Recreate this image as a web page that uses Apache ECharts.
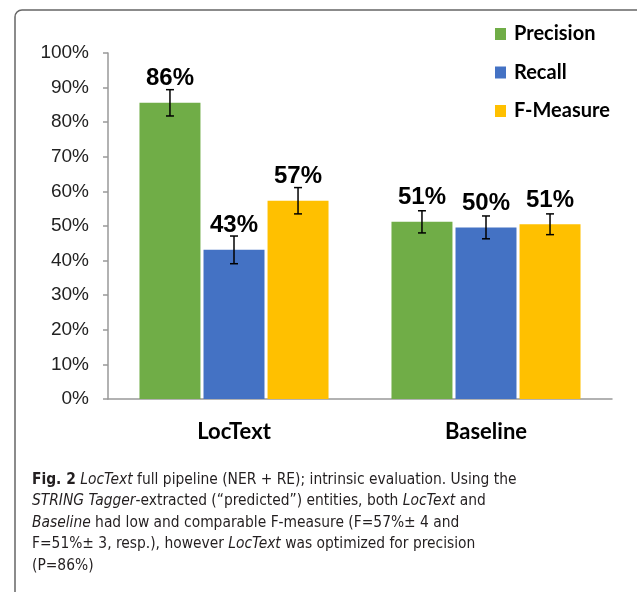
<!DOCTYPE html>
<html>
<head>
<meta charset="utf-8">
<script src="https://cdn.jsdelivr.net/npm/echarts@6/dist/echarts.min.js"></script>
<style>
	html, body { margin: 0; padding: 0; background: #fff; }
	#chart { width: 637px; height: 592px; }
</style>
</head>
<body>
<div id="chart"></div>
<script>
var categories = ['LocText', 'Baseline'];
var seriesNames = ['Precision', 'Recall', 'F-Measure'];
var precision = [85.6, 51.2];
var recall = [43.1, 49.6];
var fMeasure = [57.3, 50.5];
var precisionErr = [3.8, 3.2];
var recallErr = [4.0, 3.3];
var fMeasureErr = [3.8, 3.0];
var yTicks = [0, 10, 20, 30, 40, 50, 60, 70, 80, 90, 100];

var colors = ['#70AD47', '#4472C4', '#FFC000'];
var BAR_W = 0.242; // share of category band
var BAR_GAP = 0.05; // share of bar width

var captionFont = "'Liberation Sans Narrow', 'DejaVu Sans Condensed', 'Open Sans', sans-serif";

function barSeries(name, values, idx) {
	return {
		name: name,
		type: 'bar',
		barWidth: (BAR_W * 100) + '%',
		barGap: (BAR_GAP * 100) + '%',
		itemStyle: { color: colors[idx] },
		label: {
			show: true,
			position: 'top',
			distance: 12,
			fontFamily: 'Liberation Sans',
			fontWeight: 'bold',
			fontSize: 24,
			color: '#000',
			formatter: function (p) {
				return Math.round(p.value) + '%';
			}
		},
		data: values
	};
}

function errSeries(values, errs, idx) {
	var data = values.map(function (v, i) {
		return [i, v, errs[i]];
	});
	return {
		type: 'custom',
		silent: true,
		z: 5,
		renderItem: function (params, api) {
			var ci = api.value(0);
			var v = api.value(1);
			var e = api.value(2);
			var band = api.size([1, 0])[0];
			var bw = band * BAR_W;
			var off = (idx - 1) * (bw + bw * BAR_GAP);
			var hi = api.coord([ci, v + e]);
			var lo = api.coord([ci, v - e]);
			var x = hi[0] + off;
			var st = { stroke: '#000', lineWidth: 1.5 };
			return {
				type: 'group',
				children: [
					{ type: 'line', shape: { x1: x, y1: hi[1], x2: x, y2: lo[1] }, style: st },
					{ type: 'line', shape: { x1: x - 4, y1: hi[1], x2: x + 4, y2: hi[1] }, style: st },
					{ type: 'line', shape: { x1: x - 4, y1: lo[1], x2: x + 4, y2: lo[1] }, style: st }
				]
			};
		},
		data: data
	};
}

var caption =
	'{b|Fig. 2} {i|LocText} full pipeline (NER + RE); intrinsic evaluation. Using the\n' +
	'{i|STRING Tagger}-extracted (\u201cpredicted\u201d) entities, both {i|LocText} and\n' +
	'{i|Baseline} had low and comparable F-measure (F=57%\u00b1 4 and\n' +
	'F=51%\u00b1 3, resp.), however {i|LocText} was optimized for precision\n' +
	'(P=86%)';

var chart = echarts.init(document.getElementById('chart'));

var option = {
	animation: false,
	backgroundColor: '#fff',
	title: {
		text: caption,
		left: 32,
		top: 469,
		padding: 0,
		textStyle: {
			fontFamily: captionFont,
			fontSize: 15.4,
			fontWeight: 'normal',
			color: '#231f20',
			lineHeight: 21.5,
			rich: {
				b: { fontFamily: captionFont, fontSize: 15.4, fontWeight: 'bold', color: '#231f20', lineHeight: 21.5 },
				i: { fontFamily: captionFont, fontSize: 15.4, fontStyle: 'italic', color: '#231f20', lineHeight: 21.5 }
			}
		}
	},
	graphic: [
		{
			type: 'rect',
			silent: true,
			shape: { x: 15, y: 10, width: 640, height: 620, r: [7, 7, 0, 0] },
			style: { fill: 'none', stroke: '#666', lineWidth: 1.5 }
		}
	],
	legend: {
		orient: 'vertical',
		left: 495,
		top: 24,
		padding: 0,
		icon: 'rect',
		itemWidth: 11,
		itemHeight: 12,
		itemGap: 18.5,
		textStyle: {
			fontFamily: 'Lato',
			fontWeight: 'bold',
			fontSize: 20,
			color: '#000',
			lineHeight: 20,
			padding: [0, 0, 0, 3]
		},
		data: seriesNames
	},
	grid: {
		left: 108,
		right: 25,
		top: 53,
		bottom: 193
	},
	xAxis: {
		type: 'category',
		data: categories,
		axisLine: { lineStyle: { color: '#999', width: 1.5 } },
		axisTick: { show: false },
		axisLabel: {
			margin: 22,
			fontFamily: 'Lato',
			fontWeight: 'bold',
			fontSize: 22,
			color: '#000'
		}
	},
	yAxis: {
		type: 'value',
		min: yTicks[0],
		max: yTicks[yTicks.length - 1],
		interval: 10,
		splitLine: { show: false },
		axisLine: { show: true, lineStyle: { color: '#999', width: 1.5 } },
		axisTick: { show: true, length: 5, lineStyle: { color: '#999', width: 1.5 } },
		axisLabel: {
			margin: 19,
			fontFamily: 'Liberation Sans',
			fontSize: 19,
			color: '#222',
			formatter: '{value}%'
		}
	},
	series: [
		barSeries(seriesNames[0], precision, 0),
		barSeries(seriesNames[1], recall, 1),
		barSeries(seriesNames[2], fMeasure, 2),
		errSeries(precision, precisionErr, 0),
		errSeries(recall, recallErr, 1),
		errSeries(fMeasure, fMeasureErr, 2)
	]
};

chart.setOption(option);
</script>
</body>
</html>
